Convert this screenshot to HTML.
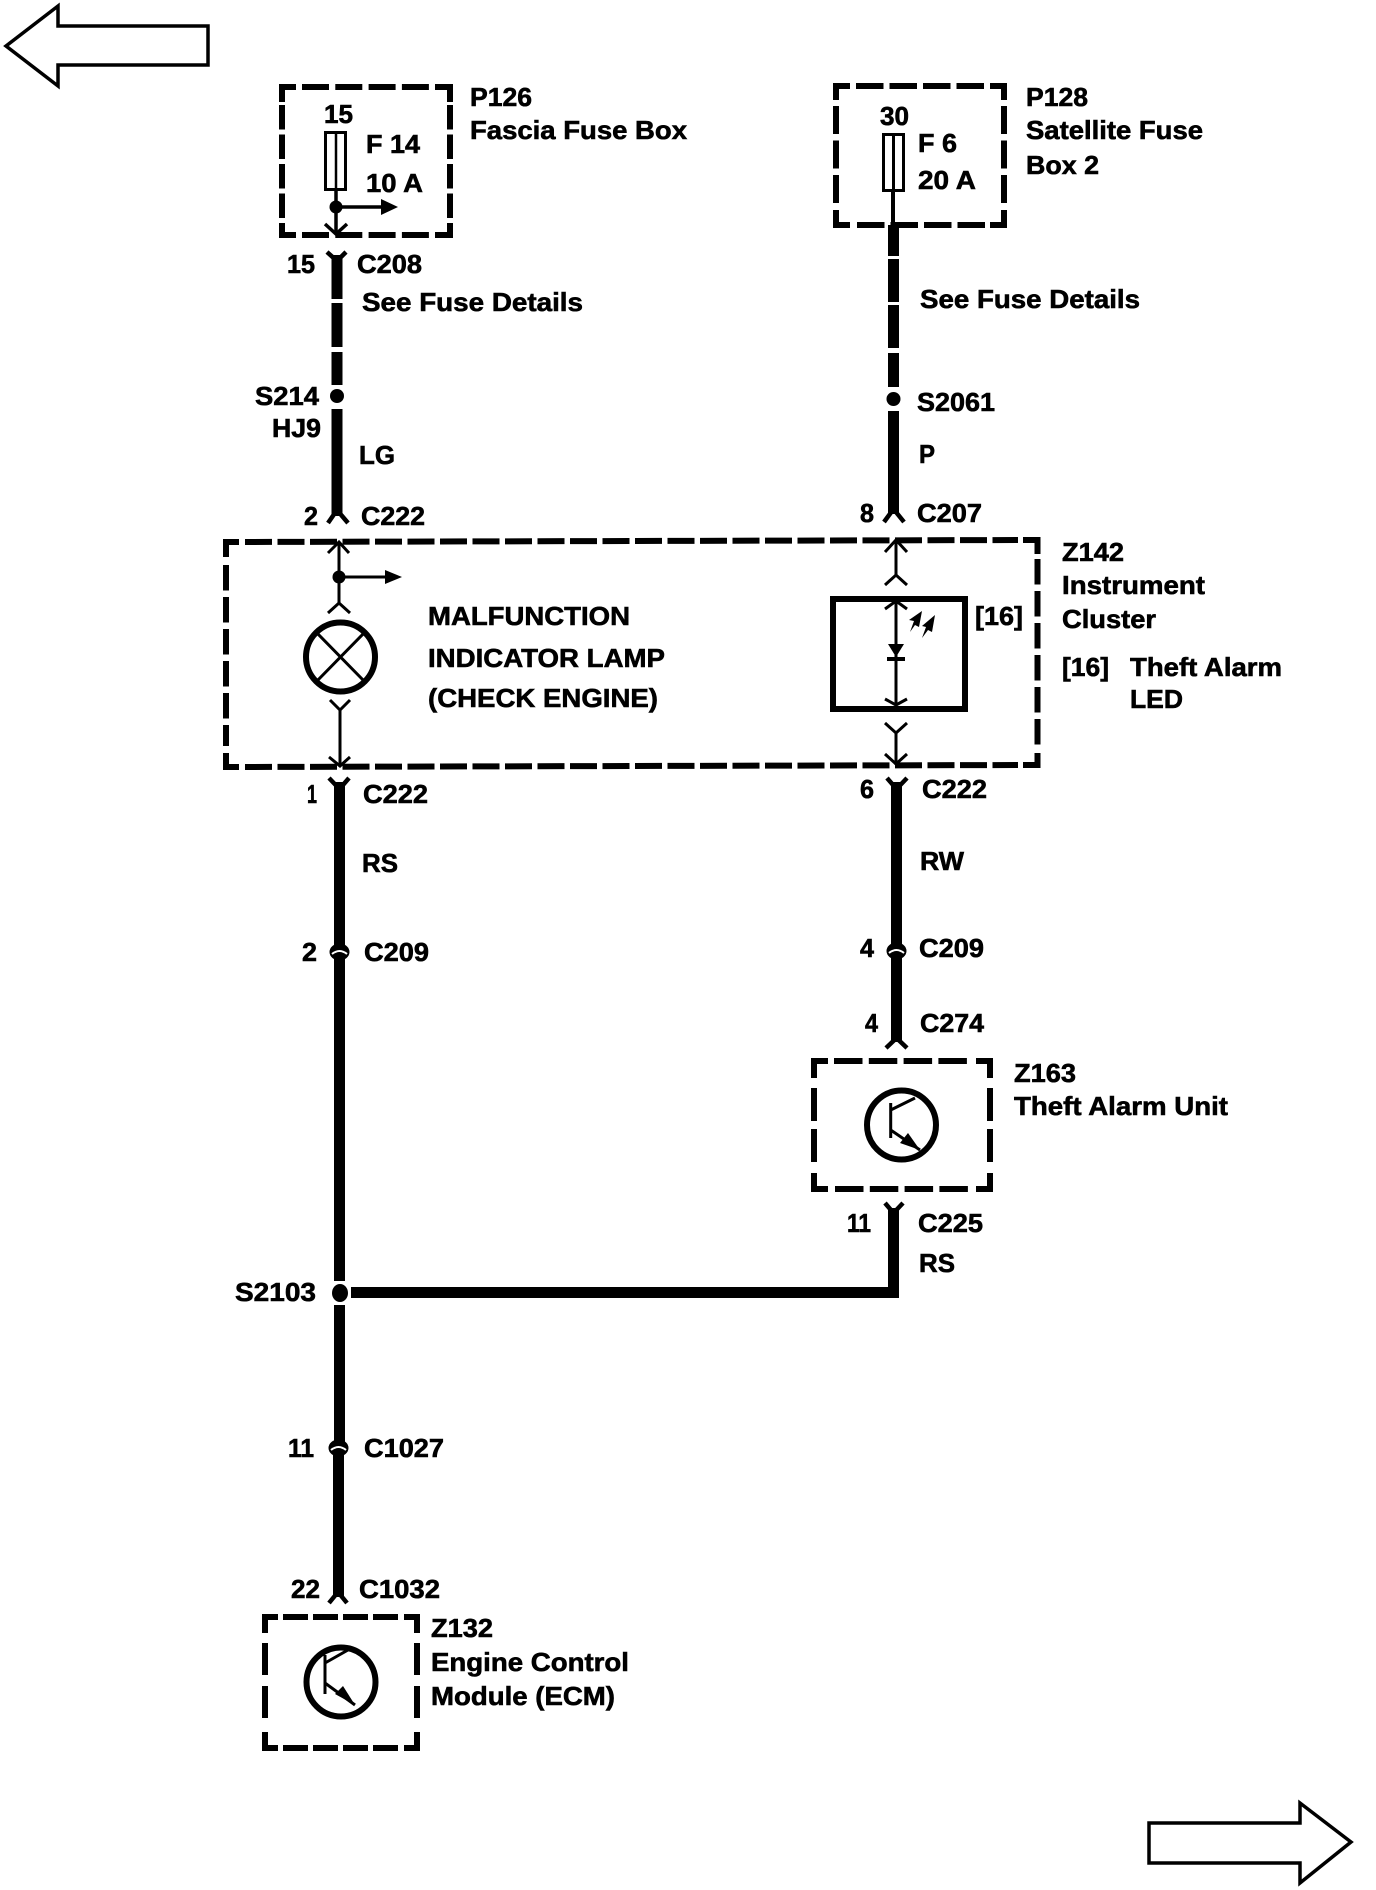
<!DOCTYPE html>
<html><head><meta charset="utf-8"><title>Wiring diagram</title>
<style>
html,body{margin:0;padding:0;background:#fff}
svg{display:block}
text{font-family:"Liberation Sans",Arial,sans-serif;font-weight:700;font-size:26px;fill:#000;stroke:#000;stroke-width:.6px}
.th{fill:none;stroke:#000;stroke-width:3}
.w{fill:none;stroke:#000;stroke-width:11}
.f{fill:none;stroke:#000;stroke-width:4.5}
.b{fill:none;stroke:#000;stroke-width:6}
</style></head><body>
<svg width="1376" height="1890" viewBox="0 0 1376 1890" xmlns="http://www.w3.org/2000/svg">
<rect width="1376" height="1890" fill="#fff" style="stroke:none"/>

<!-- page arrows -->
<path d="M6 46L58 6V26H208V65H58V86Z" fill="#fff" stroke="#000" stroke-width="3.5"/>
<path d="M1149 1823H1300V1803L1351 1842L1300 1883V1863H1149Z" fill="#fff" stroke="#000" stroke-width="3.500"/>

<!-- P126 box -->
<path class="b" d="M282 102V87H296M435 87H450V102M450 223V235H435M296 235H282V223"/>
<path class="b" d="M302 87H429M302 235H429" stroke-dasharray="27 6.300"/>
<path class="b" d="M282 105V219M450 105V219" stroke-dasharray="24.500 5"/>
<rect x="325.500" y="132.500" width="20" height="57" fill="#fff" stroke="#000" stroke-width="3"/>
<path class="th" d="M336 132V189" style="stroke-width:2.500"/>
<path class="th" d="M336 189V233M336 207H386" style="stroke-width:3.500"/>
<circle cx="336" cy="207" r="6.500"/>
<path d="M381 199L398 207L381 215Z"/>
<path class="f" d="M325 224L336 234L347 224" style="stroke-width:3.500"/>

<!-- P128 box -->
<path class="b" d="M836 100V86H850M990 86H1004V100M1004 210V225H990M850 225H836V210"/>
<path class="b" d="M856 86H985M857 225H986" stroke-dasharray="27.500 6"/>
<path class="b" d="M836 106V204M1004 106V204" stroke-dasharray="28 6.500"/>
<rect x="883.500" y="134.500" width="20" height="56" fill="#fff" stroke="#000" stroke-width="3"/>
<path class="th" d="M893.500 134V191"/>
<path class="th" d="M893 191V226" style="stroke-width:4"/>

<!-- left upper wire -->
<path class="w" d="M337 255V299M337 303V347M337 352V385M337 409V516"/>
<circle cx="337" cy="396" r="7"/>
<path class="f" d="M327 252L337 261L346 252"/>
<path class="f" d="M328 523L337 510L348 523"/>

<!-- right upper wire -->
<path class="w" d="M893.500 225V256M893.500 259V302M893.500 305V348M893.500 353V387M893.500 411V514"/>
<circle cx="893.500" cy="399" r="7"/>
<path class="f" d="M884 522L893.500 509L904 522"/>

<!-- Z142 box -->
<path class="b" d="M226 557V542H239M1023 540H1037.500V554M1037.500 753V765H1023M239 767H226V753"/>
<path class="b" d="M245 542L1018 540M245 767L1018 765" stroke-dasharray="27 5.500"/>
<path class="b" d="M226 565V746M1037.500 559V746" stroke-dasharray="25.500 6.500"/>

<!-- lamp -->
<path class="th" d="M339 543V604M339 577H390M340 710V766"/>
<path class="th" d="M328 553L339 542L349 553M328 613L339 603L350 613M330 700L340 710L350 700M329 757L340 766L350 757"/>
<circle cx="339" cy="577" r="6.500"/>
<path d="M385 570L402 577L385 584Z"/>
<circle cx="340.500" cy="657" r="34.500" fill="none" stroke="#000" stroke-width="6"/>
<path class="th" d="M316 632L365 682M365 632L316 682"/>

<!-- LED -->
<path class="th" d="M896 541V576M896 733V765M896 603V706"/>
<path class="th" d="M885 552L896 540L907 552M885 585L896 575L907 585M885 609L896 601L907 609M885 699L896 705L907 699M885 723L896 733L907 723M885 754L896 764L907 754"/>
<rect x="833" y="599" width="132" height="110" fill="none" stroke="#000" stroke-width="6"/>
<path d="M888 644H904L896 657Z"/>
<path class="th" d="M887 659H905" style="stroke-width:4"/>
<path d="M910 632L914 621L909 620L922 611L919 627L915 625Z" />
<path d="M922 638L926 627L922 626L935 615L932 632L928 630Z" />

<!-- lower left wire -->
<path class="w" d="M339.500 782V1281M339.500 1305V1450"/>
<path class="w" d="M338.500 1450V1597"/>
<path class="f" d="M329 778L339.500 789L349 778"/>
<ellipse cx="339.500" cy="952" rx="10" ry="8.500"/>
<path d="M332 954Q339.500 948 347 954" fill="none" stroke="#fff" stroke-width="2"/>
<ellipse cx="338.500" cy="1448" rx="10" ry="8.500"/>
<path d="M331 1450Q338.500 1444 346 1450" fill="none" stroke="#fff" stroke-width="2"/>
<path class="f" d="M329 1603L338 1592L347 1603"/>
<ellipse cx="340" cy="1293" rx="8" ry="9"/>

<!-- lower right wire -->
<path class="w" d="M896.500 782V1042"/>
<path class="f" d="M887 778L896.500 789L907 778"/>
<ellipse cx="896.500" cy="951" rx="10" ry="8.500"/>
<path d="M889 953Q896.500 947 904 953" fill="none" stroke="#fff" stroke-width="2"/>
<path class="f" d="M886 1048L896.500 1038L907 1048"/>

<!-- Z163 box -->
<path class="b" d="M814 1078V1061H828M976 1061H990V1078M990 1173V1189H976M828 1189H814V1173"/>
<path class="b" d="M834 1061H970M835 1189H970" stroke-dasharray="28.500 6.300"/>
<path class="b" d="M814 1088V1163M990 1088V1163" stroke-dasharray="33 8"/>
<circle cx="901.500" cy="1125" r="34.500" fill="none" stroke="#000" stroke-width="6"/>
<path class="th" d="M890.700 1103V1138M890.700 1110L915 1098M890.700 1130L920 1150"/>
<path d="M920 1150L900 1143L908 1133Z"/>

<!-- S2103 branch -->
<path class="w" d="M351 1292.500H899"/>
<path class="w" d="M893.500 1208V1298"/>
<path class="f" d="M885 1203L893.500 1213L903 1203"/>

<!-- Z132 box -->
<path class="b" d="M265 1633V1617H278M404 1617H417V1633M417 1732V1748H404M278 1748H265V1732"/>
<path class="b" d="M283 1617H399M283 1748H399" stroke-dasharray="25 5"/>
<path class="b" d="M265 1643V1722M417 1643V1722" stroke-dasharray="32 11"/>
<g transform="translate(341,1682)">
<circle r="34.500" fill="none" stroke="#000" stroke-width="6"/>
<path class="th" d="M-16 -27V12M-16 -19L7 -32M-16 1L14 23"/>
<path d="M14 23L-6 12L2 4Z"/>
</g>

<!-- labels -->
<text x="324" y="123" textLength="29" lengthAdjust="spacingAndGlyphs">15</text>
<text x="366" y="153" textLength="54" lengthAdjust="spacingAndGlyphs">F 14</text>
<text x="366" y="192" textLength="57" lengthAdjust="spacingAndGlyphs">10 A</text>
<text x="470" y="106" textLength="62" lengthAdjust="spacingAndGlyphs">P126</text>
<text x="470" y="139" textLength="217" lengthAdjust="spacingAndGlyphs">Fascia Fuse Box</text>
<text x="287" y="273" textLength="28" lengthAdjust="spacingAndGlyphs">15</text>
<text x="357" y="273" textLength="65" lengthAdjust="spacingAndGlyphs">C208</text>
<text x="362" y="311" textLength="221" lengthAdjust="spacingAndGlyphs">See Fuse Details</text>
<text x="255" y="405" textLength="64" lengthAdjust="spacingAndGlyphs">S214</text>
<text x="272" y="437" textLength="49" lengthAdjust="spacingAndGlyphs">HJ9</text>
<text x="359" y="464" textLength="36" lengthAdjust="spacingAndGlyphs">LG</text>
<text x="304" y="525" textLength="14" lengthAdjust="spacingAndGlyphs">2</text>
<text x="361" y="525" textLength="64" lengthAdjust="spacingAndGlyphs">C222</text>

<text x="880" y="125" textLength="29" lengthAdjust="spacingAndGlyphs">30</text>
<text x="918" y="152" textLength="39" lengthAdjust="spacingAndGlyphs">F 6</text>
<text x="918" y="189" textLength="58" lengthAdjust="spacingAndGlyphs">20 A</text>
<text x="1026" y="106" textLength="62" lengthAdjust="spacingAndGlyphs">P128</text>
<text x="1026" y="139" textLength="177" lengthAdjust="spacingAndGlyphs">Satellite Fuse</text>
<text x="1026" y="174" textLength="73" lengthAdjust="spacingAndGlyphs">Box 2</text>
<text x="920" y="308" textLength="220" lengthAdjust="spacingAndGlyphs">See Fuse Details</text>
<text x="917" y="411" textLength="78" lengthAdjust="spacingAndGlyphs">S2061</text>
<text x="919" y="463" textLength="16" lengthAdjust="spacingAndGlyphs">P</text>
<text x="860" y="522" textLength="14" lengthAdjust="spacingAndGlyphs">8</text>
<text x="917" y="522" textLength="65" lengthAdjust="spacingAndGlyphs">C207</text>

<text x="428" y="625" textLength="202" lengthAdjust="spacingAndGlyphs">MALFUNCTION</text>
<text x="428" y="667" textLength="237" lengthAdjust="spacingAndGlyphs">INDICATOR LAMP</text>
<text x="428" y="707" textLength="230" lengthAdjust="spacingAndGlyphs">(CHECK ENGINE)</text>
<text x="975" y="625" textLength="48" lengthAdjust="spacingAndGlyphs">[16]</text>
<text x="1062" y="561" textLength="62" lengthAdjust="spacingAndGlyphs">Z142</text>
<text x="1062" y="594" textLength="143" lengthAdjust="spacingAndGlyphs">Instrument</text>
<text x="1062" y="628" textLength="94" lengthAdjust="spacingAndGlyphs">Cluster</text>
<text x="1062" y="676" textLength="47" lengthAdjust="spacingAndGlyphs">[16]</text>
<text x="1130" y="676" textLength="152" lengthAdjust="spacingAndGlyphs">Theft Alarm</text>
<text x="1130" y="708" textLength="53" lengthAdjust="spacingAndGlyphs">LED</text>

<text x="307" y="803" textLength="10" lengthAdjust="spacingAndGlyphs">1</text>
<text x="363" y="803" textLength="65" lengthAdjust="spacingAndGlyphs">C222</text>
<text x="362" y="872" textLength="36" lengthAdjust="spacingAndGlyphs">RS</text>
<text x="302" y="961" textLength="15" lengthAdjust="spacingAndGlyphs">2</text>
<text x="364" y="961" textLength="65" lengthAdjust="spacingAndGlyphs">C209</text>

<text x="860" y="798" textLength="14" lengthAdjust="spacingAndGlyphs">6</text>
<text x="922" y="798" textLength="65" lengthAdjust="spacingAndGlyphs">C222</text>
<text x="920" y="870" textLength="44" lengthAdjust="spacingAndGlyphs">RW</text>
<text x="860" y="957" textLength="14" lengthAdjust="spacingAndGlyphs">4</text>
<text x="919" y="957" textLength="65" lengthAdjust="spacingAndGlyphs">C209</text>
<text x="865" y="1032" textLength="13" lengthAdjust="spacingAndGlyphs">4</text>
<text x="920" y="1032" textLength="64" lengthAdjust="spacingAndGlyphs">C274</text>
<text x="1014" y="1082" textLength="62" lengthAdjust="spacingAndGlyphs">Z163</text>
<text x="1014" y="1115" textLength="214" lengthAdjust="spacingAndGlyphs">Theft Alarm Unit</text>
<text x="847" y="1232" textLength="24" lengthAdjust="spacingAndGlyphs">11</text>
<text x="918" y="1232" textLength="65" lengthAdjust="spacingAndGlyphs">C225</text>
<text x="919" y="1272" textLength="36" lengthAdjust="spacingAndGlyphs">RS</text>
<text x="235" y="1301" textLength="81" lengthAdjust="spacingAndGlyphs">S2103</text>

<text x="288" y="1457" textLength="26" lengthAdjust="spacingAndGlyphs">11</text>
<text x="364" y="1457" textLength="80" lengthAdjust="spacingAndGlyphs">C1027</text>
<text x="291" y="1598" textLength="29" lengthAdjust="spacingAndGlyphs">22</text>
<text x="359" y="1598" textLength="81" lengthAdjust="spacingAndGlyphs">C1032</text>
<text x="431" y="1637" textLength="62" lengthAdjust="spacingAndGlyphs">Z132</text>
<text x="431" y="1671" textLength="198" lengthAdjust="spacingAndGlyphs">Engine Control</text>
<text x="431" y="1705" textLength="184" lengthAdjust="spacingAndGlyphs">Module (ECM)</text>
</svg>
</body></html>
